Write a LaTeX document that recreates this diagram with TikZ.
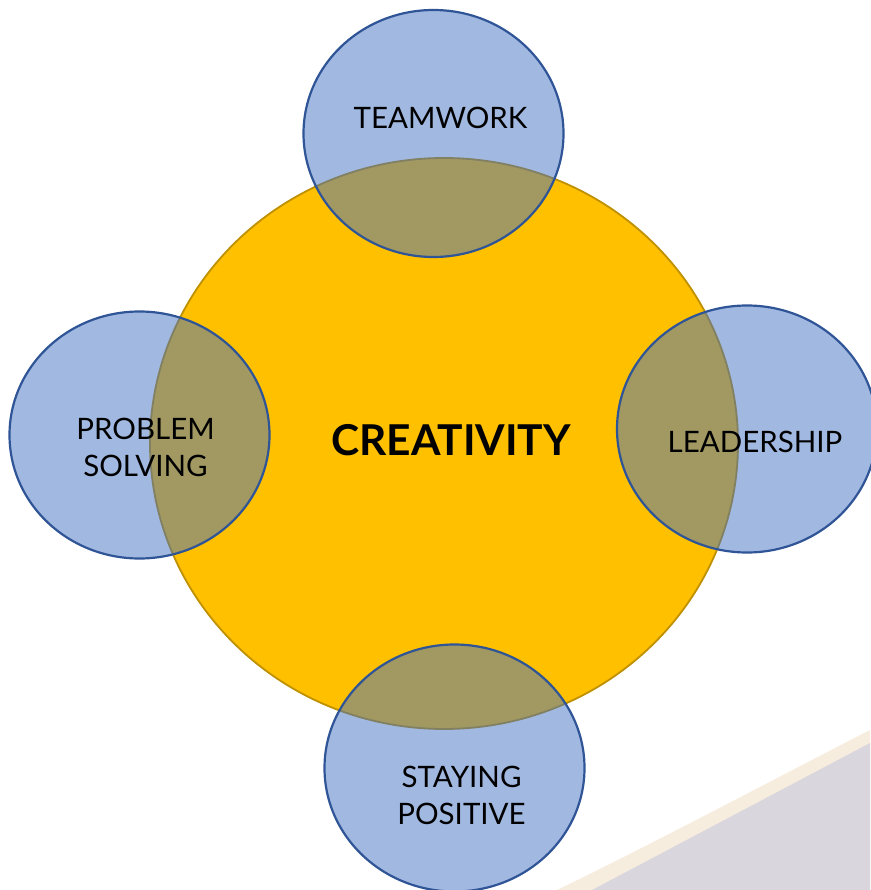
\documentclass[tikz,border=0pt]{standalone}
\usepackage{fontspec}
\setmainfont{Lato}
\usetikzlibrary{shapes.geometric}
\definecolor{core}{HTML}{FFC000}
\definecolor{coreline}{HTML}{BF9000}
\definecolor{skill}{HTML}{4472C4}
\definecolor{skillline}{HTML}{2F5597}
\definecolor{swgray}{HTML}{D9D6DD}
\definecolor{swcream}{HTML}{F7EDDF}
\tikzset{
  corebox/.style={ellipse, inner sep=0pt, outer sep=0pt, minimum width=588pt, minimum height=571pt, fill=core, draw=coreline, line width=1.8pt},
  skillbox/.style={ellipse, inner sep=0pt, outer sep=0pt, minimum width=260pt, minimum height=247pt, fill=skill, fill opacity=0.5, draw=skillline, draw opacity=1, line width=2.2pt},
  skilltext/.style={font=\fontsize{29.5}{37}\selectfont, text=black, align=center, inner sep=0pt},
  coretext/.style={font=\fontsize{42.5}{50}\selectfont\bfseries, text=black, inner sep=0pt}
}
\begin{document}
\begin{tikzpicture}[x=1pt,y=-1pt]
\useasboundingbox (0,0) rectangle (870,890);
% background swoosh
\fill[swcream] (557,890) .. controls (660,840) and (780,776) .. (870,730) -- (870,890) -- cycle;
\fill[swgray] (592,890) -- (870,743) -- (870,890) -- cycle;
% core
\node[corebox] (core) at (444,443.5) {};
% skills
\node[skillbox] (top) at (433.5,133.5) {};
\node[skillbox] (left) at (139.5,435) {};
\node[skillbox] (right) at (747,429) {};
\node[skillbox] (bottom) at (454.5,768) {};
% texts
\node[coretext, anchor=base] (tcore) at (451,455) {CREATIVITY};
\node[skilltext, anchor=base] (ttop) at (440.5,129) {TEAMWORK};
\node[skilltext, anchor=base] (tright) at (755,452) {LEADERSHIP};
\node[skilltext, anchor=center] (tleft) at (145.5,447) {PROBLEM\\SOLVING};
\node[skilltext, anchor=center] (tbottom) at (461.5,795) {STAYING\\POSITIVE};
\end{tikzpicture}
\end{document}
